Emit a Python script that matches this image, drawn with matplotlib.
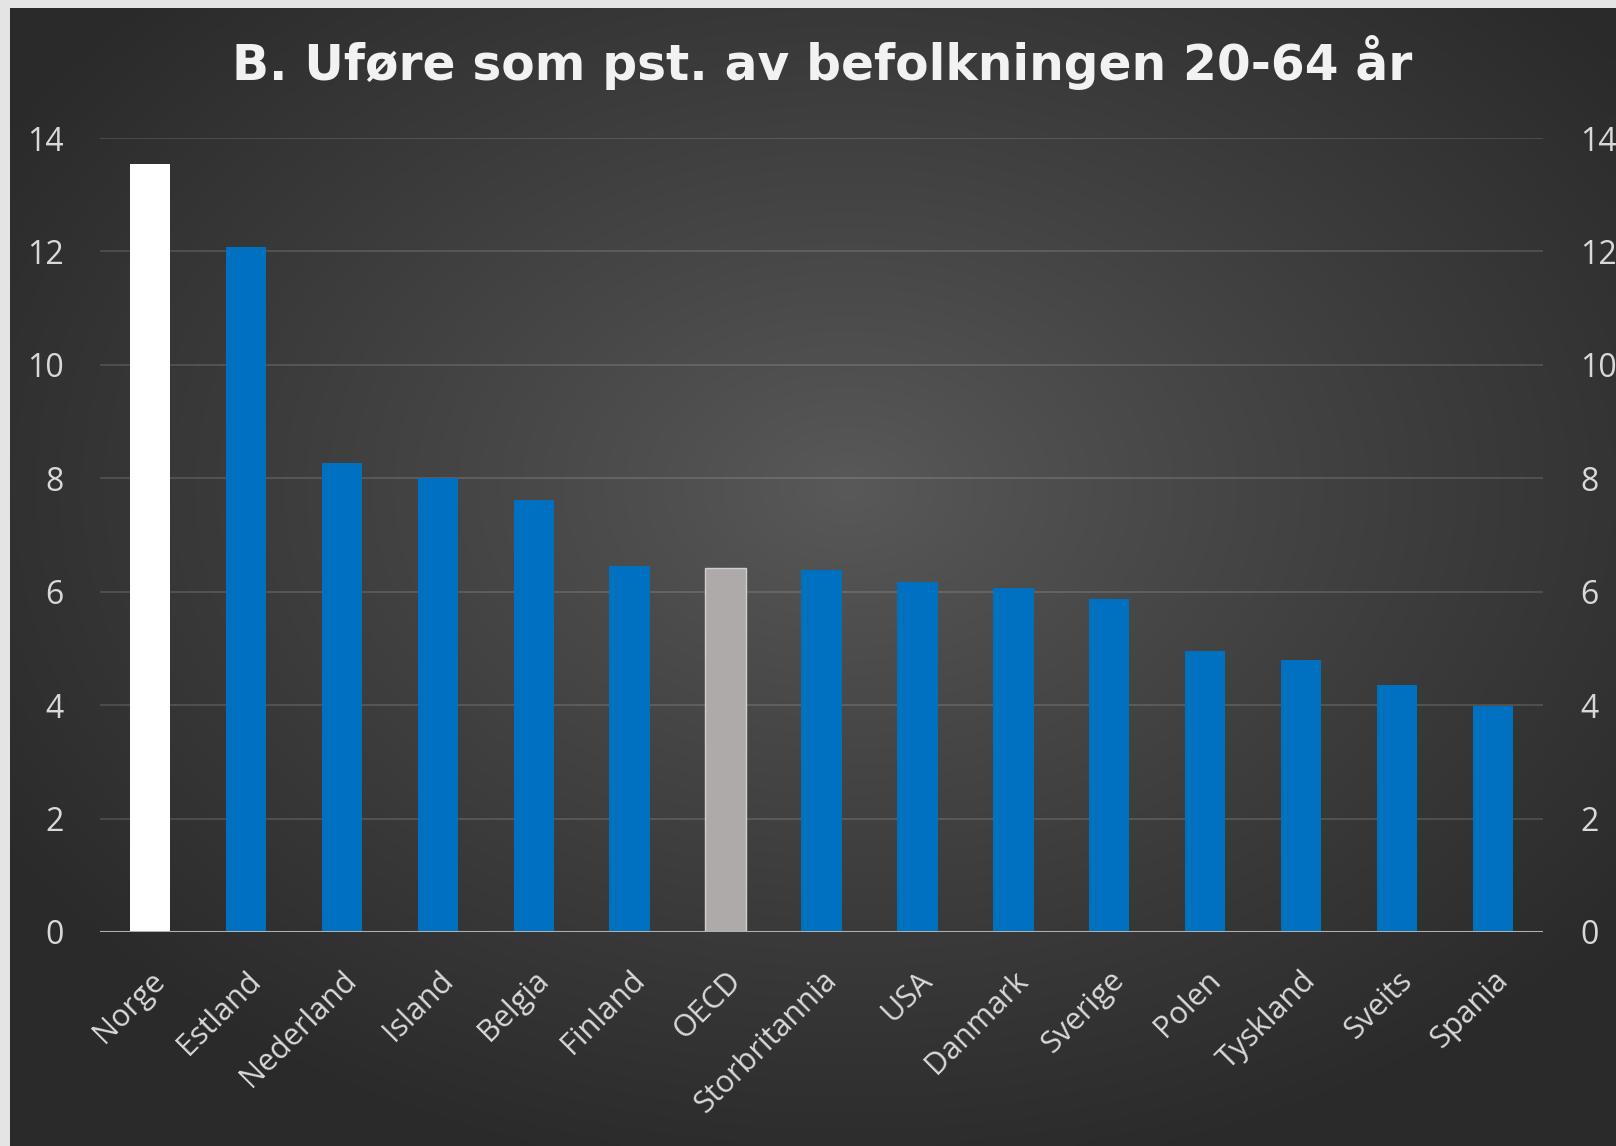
import numpy as np
import matplotlib
matplotlib.use("Agg")
import matplotlib.pyplot as plt

countries = ["Norge", "Estland", "Nederland", "Island", "Belgia", "Finland", "OECD",
             "Storbritannia", "USA", "Danmark", "Sverige", "Polen", "Tyskland",
             "Sveits", "Spania"]
values = [13.55, 12.07, 8.27, 8.0, 7.62, 6.45, 6.42, 6.38, 6.17, 6.06, 5.87,
          4.96, 4.79, 4.35, 3.98]
bar_colors = ["#ffffff"] + ["#0070c0"] * 5 + ["#aeaaaa"] + ["#0070c0"] * 8
yticks = [0, 2, 4, 6, 8, 10, 12, 14]
title = "B. Uføre som pst. av befolkningen 20-64 år"

W, H = 1616, 1146
fig = plt.figure(figsize=(W / 100, H / 100), dpi=100, facecolor="#e4e4e4")

# dark radial-gradient panel
bg = fig.add_axes([10 / W, 0, 1 - 10 / W, 1 - 8 / H])
bg.set_axis_off()
yy, xx = np.mgrid[0:200, 0:280]
cx, cy = 0.52 * 280, 0.42 * 200
r = np.sqrt(((xx - cx) / 280) ** 2 + ((yy - cy) / 200) ** 2)
r = np.clip(r / 0.62, 0, 1)
shade = 0.35 - (0.35 - 0.165) * r ** 0.9
img = np.dstack([shade, shade, shade])
bg.imshow(img, aspect="auto", extent=[0, 1, 0, 1], interpolation="bicubic")
bg.set_xlim(0, 1)
bg.set_ylim(0, 1)

ax = fig.add_axes([100 / W, 1 - 932 / H, (1543 - 100) / W, (932 - 138) / H])
ax.patch.set_alpha(0)
x = np.arange(len(countries))
bars = ax.bar(x, values, width=0.42, color=bar_colors, zorder=3)
bars[6].set_edgecolor("#cfcfcf")
bars[6].set_linewidth(1)

ax.set_xlim(-0.52, len(countries) - 0.48)
ax.set_ylim(0, 14)
ax.set_yticks(yticks)
for t in yticks[1:]:
    ax.axhline(t, color="white", alpha=0.14, lw=1.3, zorder=1)
ax.axhline(0, color="#b0b0b0", lw=2.2, zorder=4)

for s in ax.spines.values():
    s.set_visible(False)

tick_font = "Open Sans"
fs = 22
ax.set_xticks(x)
ax.set_xticklabels(countries, rotation=45, ha="right", va="top",
                   rotation_mode="anchor", fontsize=fs, color="#d9d9d9",
                   family=tick_font)
ax.tick_params(axis="x", length=0, pad=24)
ax.tick_params(axis="y", length=0, pad=26, labelsize=fs + 1, labelcolor="#d9d9d9")
for lab in ax.get_yticklabels():
    lab.set_family(tick_font)

ax2 = ax.twinx()
ax2.set_ylim(0, 14)
ax2.set_yticks(yticks)
ax2.tick_params(axis="y", length=0, pad=27, labelsize=fs + 1, labelcolor="#d9d9d9")
for lab in ax2.get_yticklabels():
    lab.set_family(tick_font)
for s in ax2.spines.values():
    s.set_visible(False)

fig.text(822 / W, 1 - 62 / H, title, ha="center", va="center", color="#f2f2f2",
         fontsize=35, fontweight="bold", family="DejaVu Sans")

fig.savefig("out.png", dpi=100, facecolor=fig.get_facecolor())
